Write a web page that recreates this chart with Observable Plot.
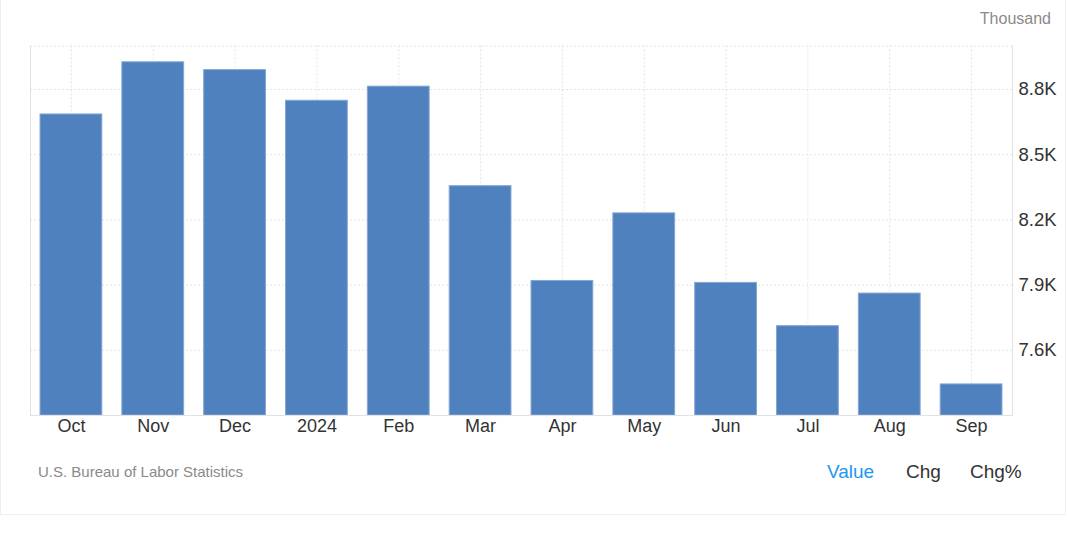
<!DOCTYPE html>
<html>
<head>
<meta charset="utf-8">
<script src="https://cdn.jsdelivr.net/npm/d3@7"></script>
<script src="https://cdn.jsdelivr.net/npm/@observablehq/plot@0.6"></script>
<style>
  html, body { margin: 0; padding: 0; background: #fff; }
  body { font-family: "Liberation Sans", Arial, sans-serif; }
  #wrap { position: relative; width: 1066px; height: 515px; border: 1px solid #efefef; border-top: none; box-sizing: border-box; }
  #unit { position: absolute; right: 14px; top: 10px; font-size: 16px; color: #8a8a8a; }
  #chart { position: absolute; left: -1px; top: 0; width: 1067px; }
  #chart svg { max-width: none !important; }
  #source { position: absolute; left: 37px; top: 463px; font-size: 15px; color: #8a8a8a; }
  .tab { position: absolute; top: 461px; font-size: 19px; color: #333; }
</style>
</head>
<body>
<div id="wrap">
  <div id="chart"></div>
  <div id="unit">Thousand</div>
  <div id="source">U.S. Bureau of Labor Statistics</div>
  <div class="tab" style="left:826px;color:#2196f3;">Value</div>
  <div class="tab" style="left:905px;">Chg</div>
  <div class="tab" style="left:969px;">Chg%</div>
</div>
<script>
const months = ["Oct","Nov","Dec","2024","Feb","Mar","Apr","May","Jun","Jul","Aug","Sep"];
const values = [8.685, 8.925, 8.889, 8.748, 8.813, 8.355, 7.919, 8.230, 7.910, 7.711, 7.861, 7.443];
const yTicks = [7.6, 7.9, 8.2, 8.5, 8.8];
const yDomain = [7.3, 9.0];

const data = months.map((m, i) => ({month: m, value: values[i]}));
const gridColor = "#e4e4e4";
const axisColor = "#e2e2e2";

const chart = Plot.plot({
  width: 1067,
  height: 440,
  marginTop: 45.5,
  marginBottom: 25,
  marginLeft: 30,
  marginRight: 55,
  style: {fontFamily: "'Liberation Sans', Arial, sans-serif", fontSize: "18px", color: "#333", background: "transparent", maxWidth: "none"},
  x: {domain: months, paddingInner: 0.245, paddingOuter: 0.1225, round: false, label: null},
  y: {domain: yDomain, label: null},
  marks: [
    Plot.ruleY([...yTicks, yDomain[1]], {stroke: gridColor, strokeDasharray: "2,2"}),
    Plot.ruleX(months, {stroke: gridColor, strokeDasharray: "2,2"}),
    Plot.barY(data, {x: "month", y1: yDomain[0], y2: "value", fill: "#4e81bd", stroke: "#86a6d4", strokeWidth: 1}),
    Plot.frame({anchor: "left", stroke: axisColor}),
    Plot.frame({anchor: "right", stroke: axisColor}),
    Plot.ruleY([yDomain[0]], {stroke: axisColor}),
    Plot.axisX({tickSize: 0, tickPadding: 4, fontSize: 18, fill: "#333"}),
    Plot.axisY({anchor: "right", ticks: yTicks, tickSize: 0, tickPadding: 6, fontSize: 18.5, fill: "#333",
      tickFormat: d => d.toFixed(1) + "K"})
  ]
});
document.getElementById("chart").appendChild(chart);
</script>
</body>
</html>
